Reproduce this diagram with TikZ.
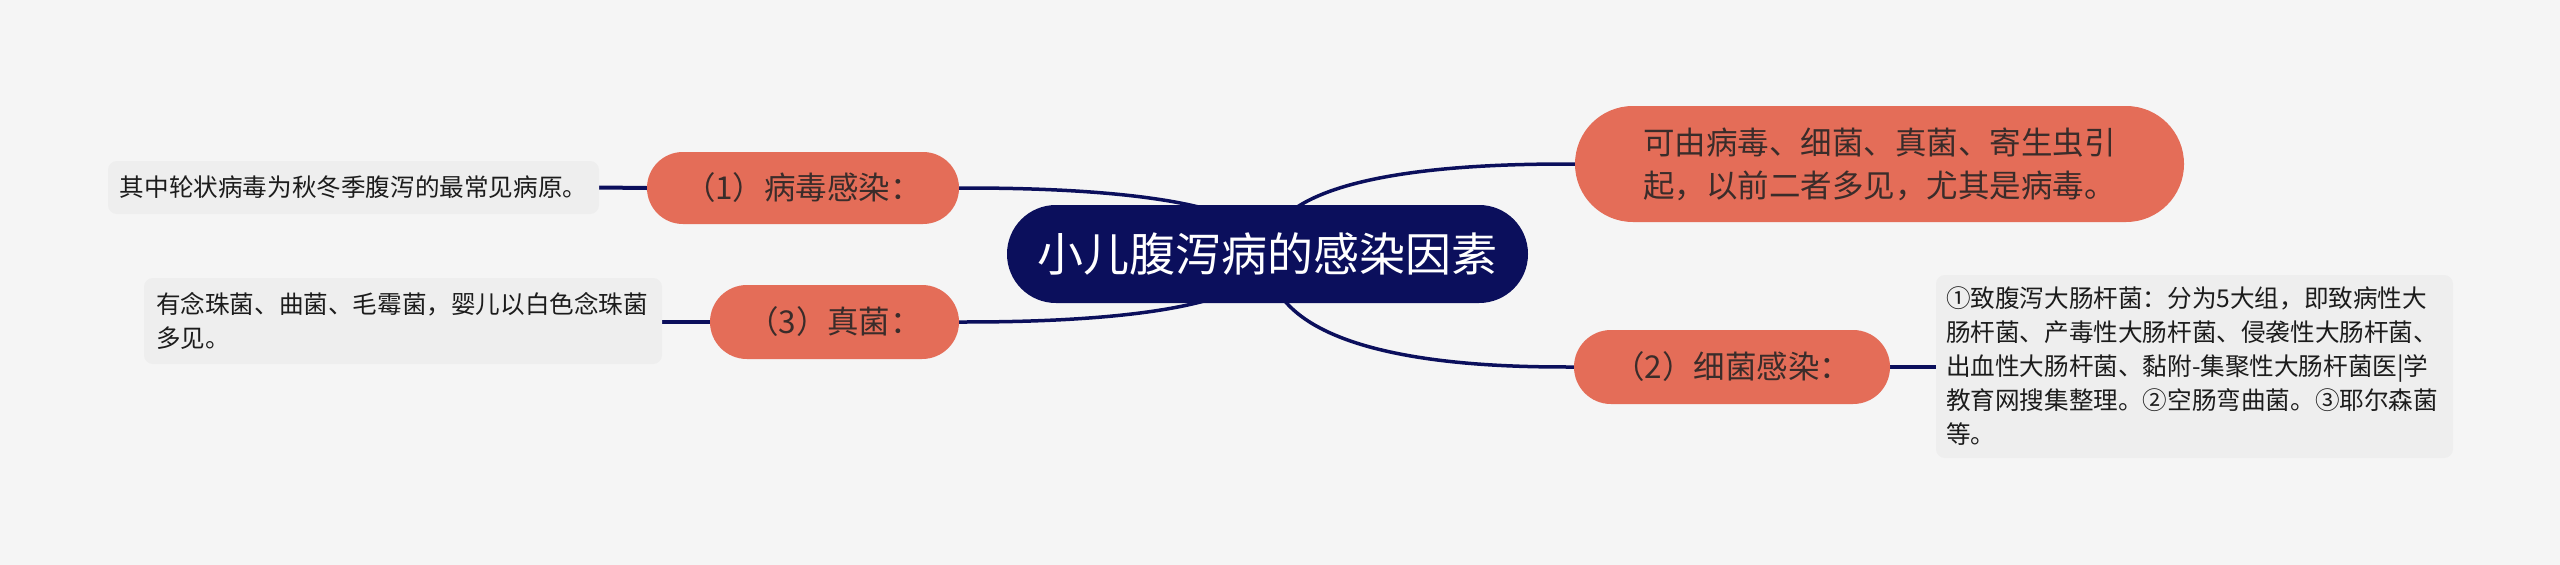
\documentclass[tikz,border=0pt]{standalone}
\usepackage{fontspec}
\newfontfamily\cjk{Noto Sans CJK SC}
\definecolor{bgc}{HTML}{F5F5F5}
\definecolor{navy}{HTML}{0B0F5C}
\definecolor{coral}{HTML}{E46D58}
\definecolor{detailc}{HTML}{EEEEEE}
\definecolor{txt}{HTML}{3A2C2A}
\definecolor{dtxt}{HTML}{1C1C1C}
\pgfdeclarelayer{edgelayer}
\pgfsetlayers{edgelayer,main}
\begin{document}
\begin{tikzpicture}[x=1pt,y=-1pt,
  root/.style={fill=navy, text=white, inner sep=0pt,
    font=\cjk\fontsize{46}{56}\selectfont},
  branch/.style={fill=coral, text=txt, inner sep=0pt,
    font=\cjk\fontsize{31.5}{43}\selectfont},
  detail/.style={fill=detailc, text=dtxt, rounded corners=9pt,
    font=\cjk\fontsize{24.6}{34}\selectfont, align=left},
  edge/.style={draw=navy, line width=3.5pt},
  leafedge/.style={draw=navy, line width=4pt}
]
\begin{pgfonlayer}{edgelayer}
\fill[bgc] (0,0) rectangle (2560,565);
\end{pgfonlayer}
\useasboundingbox (0,0) rectangle (2560,565);

\node[root, minimum width=521pt, minimum height=98pt, rounded corners=48.9pt] (c) at (1267.5,254) {小儿腹泻病的感染因素};

\node[branch, minimum width=609pt, minimum height=116pt, rounded corners=57.9pt, align=left] (r1) at (1879.5,164)
  {可由病毒、细菌、真菌、寄生虫引\\起，以前二者多见，尤其是病毒。};

\node[branch, minimum width=316pt, minimum height=74pt, rounded corners=36.9pt] (r2) at (1732,367) {（2）细菌感染：};

\node[branch, minimum width=312pt, minimum height=72pt, rounded corners=35.9pt] (l1) at (803,188) {（1）病毒感染：};

\node[branch, minimum width=249pt, minimum height=74pt, rounded corners=36.9pt] (l3) at (834.5,322) {（3）真菌：};

\node[detail, minimum width=517pt, minimum height=183pt, text width=497pt, inner xsep=10pt] (d2) at (2194.5,366.5)
  {①致腹泻大肠杆菌：分为5大组，即致病性大\\肠杆菌、产毒性大肠杆菌、侵袭性大肠杆菌、\\出血性大肠杆菌、黏附-集聚性大肠杆菌医|学\\教育网搜集整理。②空肠弯曲菌。③耶尔森菌\\等。};

\node[detail, minimum width=491pt, minimum height=53pt, inner sep=0pt] (d1) at (353.5,187.5)
  {其中轮状病毒为秋冬季腹泻的最常见病原。};

\node[detail, minimum width=518pt, minimum height=86pt, text width=494pt, inner xsep=12pt] (d3) at (403,321)
  {有念珠菌、曲菌、毛霉菌，婴儿以白色念珠菌\\多见。};

\begin{pgfonlayer}{edgelayer}
\draw[edge] (c.center) .. controls +(0,-90) and +(-70,0) .. (r1.west);
\draw[edge] (c.center) .. controls +(0,113) and +(-70,0) .. (r2.west);
\draw[edge] (c.center) .. controls +(0,-66) and +(60,0) .. (l1.east);
\draw[edge] (c.center) .. controls +(0,68) and +(60,0) .. (l3.east);
\draw[leafedge] (l1.west) -- (d1.east);
\draw[leafedge] (l3.west) -- (l3.west -| d3.east);
\draw[leafedge] (r2.east) -- (r2.east -| d2.west);
\end{pgfonlayer}
\end{tikzpicture}
\end{document}
